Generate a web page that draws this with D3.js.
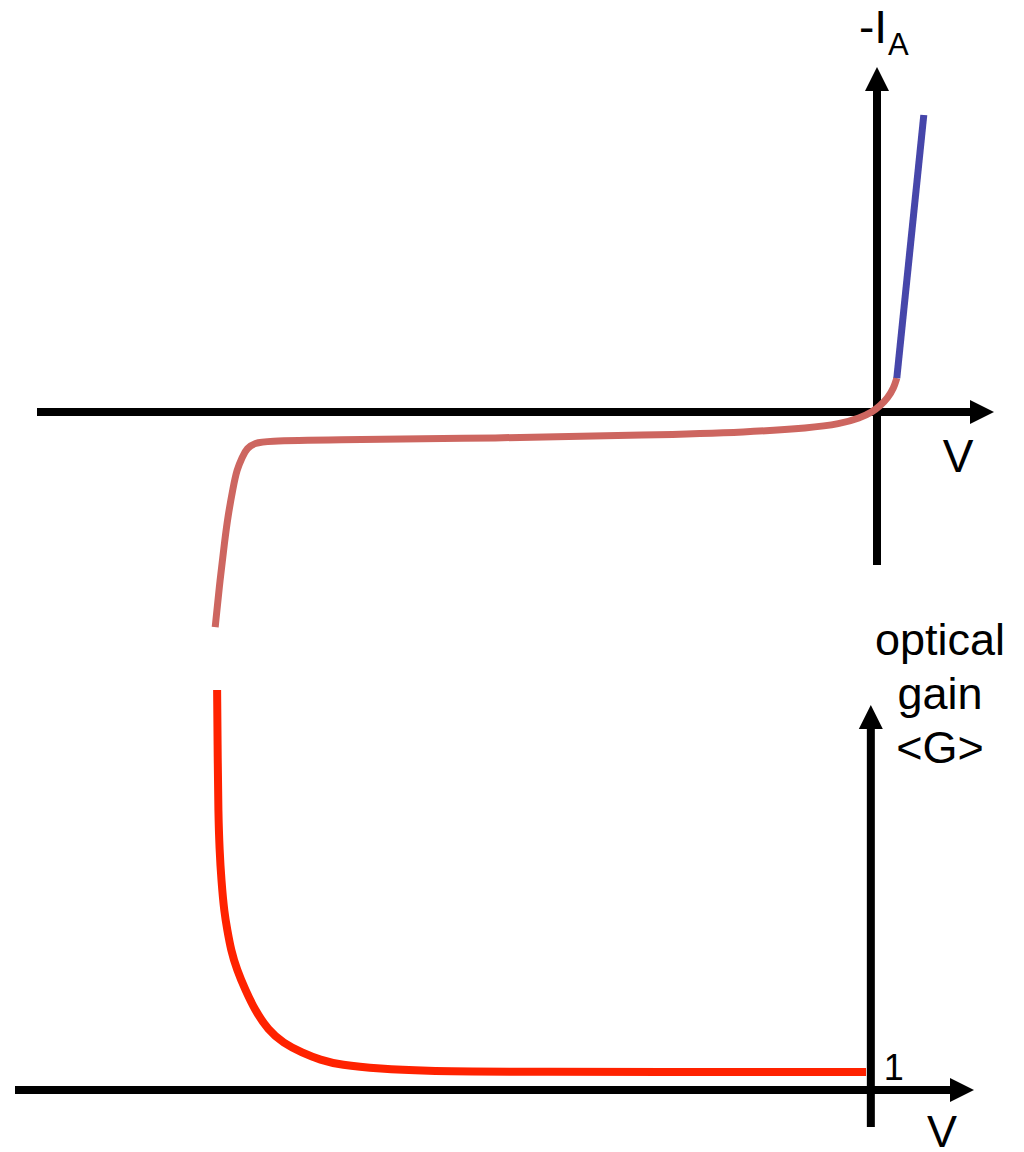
<!DOCTYPE html>
<html>
<head>
<meta charset="utf-8">
<script src="https://cdn.jsdelivr.net/npm/d3@7"></script>
<style>
  html, body { margin: 0; padding: 0; background: #fff; }
  svg { display: block; }
  text { font-family: "Liberation Sans", Arial, sans-serif; fill: #000; }
</style>
</head>
<body>
<svg id="chart" width="1024" height="1152"></svg>
<script>
// Upper panel: anode current -I_A versus bias V (arbitrary units)
const ivVoltage = [-11.03, -10.95, -10.87, -10.82, -10.73, -10.67, -10.58, -10.50, -10.37, -10.17,
                   -9.28, -6.28, -3.78, -2.12, -1.12, -0.62, -0.28, -0.08, 0.05, 0.18, 0.28, 0.33];
const ivCurrent = [-7.17, -5.60, -4.27, -3.50, -2.50, -1.93, -1.50, -1.20, -1.03, -0.97,
                   -0.93, -0.87, -0.77, -0.67, -0.53, -0.40, -0.20, 0.0, 0.20, 0.47, 0.80, 1.13];
// Forward-bias branch
const fwdVoltage = [0.33, 0.78];
const fwdCurrent = [1.13, 9.9];

// Lower panel: optical gain <G> versus bias V
const gainVoltage = [-10.90, -10.89, -10.88, -10.86, -10.83, -10.78, -10.73, -10.67, -10.57, -10.43,
                     -10.27, -10.05, -9.80, -9.48, -9.18, -8.85, -8.18, -7.47, -6.18, -0.08];
const gainValues  = [22.22, 18.33, 15.39, 13.33, 11.67, 9.83, 8.89, 7.78, 6.67, 5.56,
                     4.44, 3.33, 2.61, 2.06, 1.67, 1.39, 1.17, 1.06, 1.0, 1.0];

// Axis labels
const gainLabelLines = ["optical", "gain", "<G>"];
const gainTickLabel = "1";

const svg = d3.select("#chart");

// Scales: upper panel
const xTop = d3.scaleLinear().domain([-14.0, 1.95]).range([37, 994]);
const yTop = d3.scaleLinear().domain([-5.1, 11.5]).range([565, 67]);
// Scales: lower panel
const xBot = d3.scaleLinear().domain([-14.27, 1.72]).range([15, 974]);
const yBot = d3.scaleLinear().domain([-2.056, 21.39]).range([1127, 705]);

const AXIS_W = 8, HEAD_L = 24, HEAD_HW = 12;

function drawAxes(g, x, y) {
  const [x0, x1] = x.domain();
  const [y0, y1] = y.domain();
  const ox = x(0), oy = y(0);
  // horizontal axis with arrowhead to the right
  g.append("line")
    .attr("x1", x(x0)).attr("x2", x(x1) - HEAD_L + 1)
    .attr("y1", oy).attr("y2", oy)
    .attr("stroke", "#000").attr("stroke-width", AXIS_W);
  g.append("path")
    .attr("d", `M${x(x1)},${oy} L${x(x1) - HEAD_L},${oy - HEAD_HW} L${x(x1) - HEAD_L},${oy + HEAD_HW} Z`)
    .attr("fill", "#000");
  // vertical axis with arrowhead upward
  g.append("line")
    .attr("x1", ox).attr("x2", ox)
    .attr("y1", y(y0)).attr("y2", y(y1) + HEAD_L - 1)
    .attr("stroke", "#000").attr("stroke-width", AXIS_W);
  g.append("path")
    .attr("d", `M${ox},${y(y1)} L${ox - HEAD_HW},${y(y1) + HEAD_L} L${ox + HEAD_HW},${y(y1) + HEAD_L} Z`)
    .attr("fill", "#000");
}

const gTop = svg.append("g");
const gBot = svg.append("g");

drawAxes(gTop, xTop, yTop);
drawAxes(gBot, xBot, yBot);

const zip = (a, b) => a.map((v, i) => [v, b[i]]);

// Upper curves (B-spline through the sampled points for a smooth trace)
const lineTop = d3.line()
  .x(d => xTop(d[0])).y(d => yTop(d[1]))
  .curve(d3.curveBasis);

gTop.append("path")
  .datum(zip(ivVoltage, ivCurrent))
  .attr("d", lineTop)
  .attr("fill", "none")
  .attr("stroke", "#cd6660")
  .attr("stroke-width", 7);

gTop.append("path")
  .datum(zip(fwdVoltage, fwdCurrent))
  .attr("d", d3.line().x(d => xTop(d[0])).y(d => yTop(d[1])))
  .attr("fill", "none")
  .attr("stroke", "#4646aa")
  .attr("stroke-width", 7);

// Lower curve
const lineBot = d3.line()
  .x(d => xBot(d[0])).y(d => yBot(d[1]))
  .curve(d3.curveBasis);

gBot.append("path")
  .datum(zip(gainVoltage, gainValues))
  .attr("d", lineBot)
  .attr("fill", "none")
  .attr("stroke", "#ff2200")
  .attr("stroke-width", 8);

// Upper labels
const ia = gTop.append("text")
  .attr("x", 859).attr("y", 43)
  .attr("font-size", 46);
ia.append("tspan").text("-I");
ia.append("tspan").attr("font-size", 31).attr("dy", 12).attr("dx", 1).text("A");

gTop.append("text")
  .attr("x", 958).attr("y", 472)
  .attr("text-anchor", "middle")
  .attr("font-size", 46)
  .text("V");

// Lower labels
gBot.append("text")
  .attr("x", 940)
  .attr("text-anchor", "middle")
  .attr("font-size", 45)
  .selectAll("tspan")
  .data(gainLabelLines)
  .join("tspan")
  .attr("x", 940)
  .attr("y", (d, i) => 655 + i * 54)
  .text(d => d);

gBot.append("text")
  .attr("x", xBot(0) + 13).attr("y", 1080)
  .attr("font-size", 36)
  .text(gainTickLabel);

gBot.append("text")
  .attr("x", 942).attr("y", 1147)
  .attr("text-anchor", "middle")
  .attr("font-size", 45)
  .text("V");
</script>
</body>
</html>
